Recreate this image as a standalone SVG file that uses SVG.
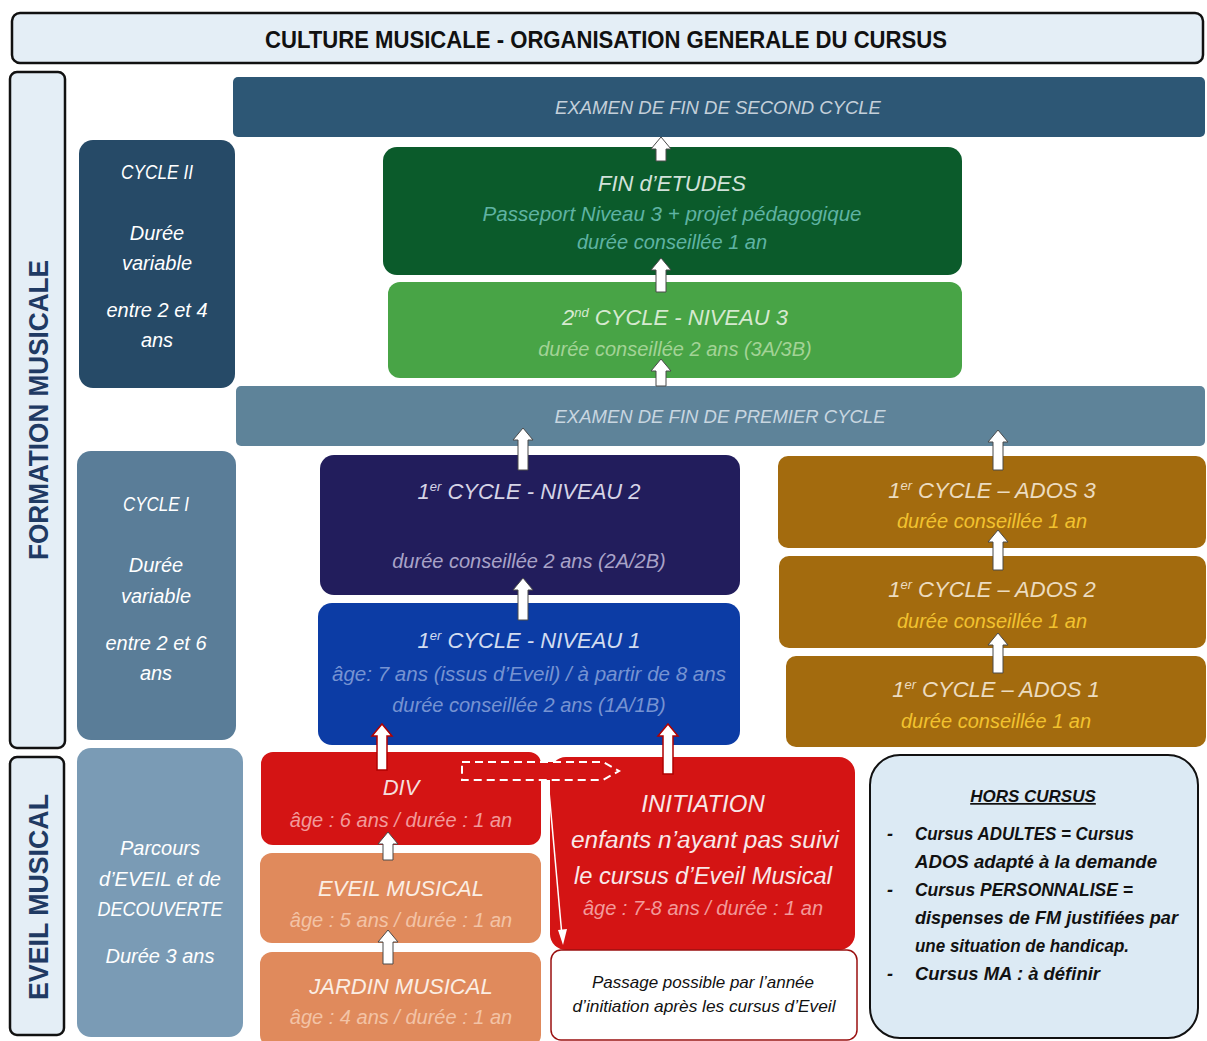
<svg xmlns="http://www.w3.org/2000/svg" width="1207" height="1041" viewBox="0 0 1207 1041">
<style>
text{font-family:"Liberation Sans",Arial,sans-serif;font-style:italic;text-anchor:middle}
.lbl{font-style:normal;font-weight:bold;fill:#1f3a63}
.side{fill:#ffffff;font-size:20px}
.h{font-size:22px}
.s{font-size:20px}
.arr{fill:#ffffff;stroke:#4a4a4a;stroke-width:1}
.arrR{fill:#ffffff;stroke:#b00000;stroke-width:1.5}
.hc{font-weight:bold;font-size:18px;fill:#111;text-anchor:start}
</style>
<rect width="1207" height="1041" fill="#ffffff"/>
<g id="title">
<rect x="12" y="13" width="1191" height="50" rx="8" fill="#e4eef6" stroke="#111" stroke-width="2.5"/>
<text x="606" y="48" style="font-style:normal;font-weight:bold;font-size:24px;fill:#111" textLength="682" lengthAdjust="spacingAndGlyphs">CULTURE MUSICALE - ORGANISATION GENERALE DU CURSUS</text>
</g>
<g id="formation-musicale">
<rect x="10" y="72" width="55" height="676" rx="7" fill="#e4eef6" stroke="#111" stroke-width="2.5"/>
<text class="lbl" transform="translate(48,410) rotate(-90)" font-size="27" textLength="300" lengthAdjust="spacingAndGlyphs">FORMATION  MUSICALE</text>
</g>
<g id="eveil-musical">
<rect x="10" y="757" width="54" height="278" rx="7" fill="#e4eef6" stroke="#111" stroke-width="2.5"/>
<text class="lbl" transform="translate(48,897) rotate(-90)" font-size="27" textLength="206" lengthAdjust="spacingAndGlyphs">EVEIL  MUSICAL</text>
</g>
<g id="cycle2">
<rect x="79" y="140" width="156" height="248" rx="14" fill="#264a67"/>
<text class="side" x="157" y="179" textLength="72" lengthAdjust="spacingAndGlyphs">CYCLE II</text>
<text class="side" x="157" y="240">Durée</text>
<text class="side" x="157" y="270">variable</text>
<text class="side" x="157" y="317">entre 2 et 4</text>
<text class="side" x="157" y="347">ans</text>
</g>
<g id="cycle1">
<rect x="77" y="451" width="159" height="289" rx="14" fill="#5a7d98"/>
<text class="side" x="156" y="511" textLength="66" lengthAdjust="spacingAndGlyphs">CYCLE I</text>
<text class="side" x="156" y="572">Durée</text>
<text class="side" x="156" y="603">variable</text>
<text class="side" x="156" y="650">entre 2 et 6</text>
<text class="side" x="156" y="680">ans</text>
</g>
<g id="parcours">
<rect x="77" y="748" width="166" height="289" rx="14" fill="#7a9bb5"/>
<text class="side" x="160" y="855">Parcours</text>
<text class="side" x="160" y="886">d’EVEIL et de</text>
<text class="side" x="160" y="916" textLength="125" lengthAdjust="spacingAndGlyphs">DECOUVERTE</text>
<text class="side" x="160" y="963">Durée 3 ans</text>
</g>
<g id="examen2">
<rect x="233" y="77" width="972" height="60" rx="5" fill="#2d5775"/>
<text x="718" y="114" font-size="18.5" fill="#c4d0da">EXAMEN DE FIN DE SECOND CYCLE</text>
</g>
<g id="fin-etudes">
<rect x="383" y="147" width="579" height="128" rx="14" fill="#0b5b2b"/>
<text x="672" y="191" class="h" fill="#d2e2da">FIN d’ETUDES</text>
<text x="672" y="221" class="s" fill="#5fb3a3" textLength="379" lengthAdjust="spacingAndGlyphs">Passeport Niveau 3 + projet pédagogique</text>
<text x="672" y="249" class="s" fill="#5fb3a3">durée conseillée 1 an</text>
</g>
<g id="cycle2-niveau3">
<rect x="388" y="282" width="574" height="96" rx="12" fill="#48a446"/>
<text x="675" y="325" class="h" fill="#d6e9d0">2<tspan font-size="13" dy="-8">nd</tspan><tspan dy="8"> CYCLE - NIVEAU 3</tspan></text>
<text x="675" y="356" class="s" fill="#a3d396">durée conseillée 2 ans (3A/3B)</text>
</g>
<g id="examen1">
<rect x="236" y="386" width="969" height="60" rx="5" fill="#5e8399"/>
<text x="720" y="423" font-size="18.5" fill="#c8d6e0">EXAMEN DE FIN DE PREMIER CYCLE</text>
</g>
<g id="niveau2">
<rect x="320" y="455" width="420" height="140" rx="14" fill="#221d5c"/>
<text x="529" y="499" class="h" fill="#d6d4e6">1<tspan font-size="13" dy="-8">er</tspan><tspan dy="8"> CYCLE - NIVEAU 2</tspan></text>
<text x="529" y="568" class="s" fill="#a9a3c8">durée conseillée 2 ans (2A/2B)</text>
</g>
<g id="niveau1">
<rect x="318" y="603" width="422" height="142" rx="14" fill="#0c3ca5"/>
<text x="529" y="648" class="h" fill="#d2dcf0">1<tspan font-size="13" dy="-8">er</tspan><tspan dy="8"> CYCLE - NIVEAU 1</tspan></text>
<text x="529" y="681" class="s" fill="#7693d2" textLength="394" lengthAdjust="spacingAndGlyphs">âge: 7 ans (issus d’Eveil) / à partir de 8 ans</text>
<text x="529" y="712" class="s" fill="#7693d2">durée conseillée 2 ans (1A/1B)</text>
</g>
<g id="ados3">
<rect x="778" y="456" width="428" height="92" rx="10" fill="#a36b0e"/>
<text x="992" y="498" class="h" fill="#ecdcc0">1<tspan font-size="13" dy="-8">er</tspan><tspan dy="8"> CYCLE – ADOS 3</tspan></text>
<text x="992" y="528" class="s" fill="#f2c22e">durée conseillée 1 an</text>
</g>
<g id="ados2">
<rect x="779" y="556" width="427" height="92" rx="10" fill="#a36b0e"/>
<text x="992" y="597" class="h" fill="#ecdcc0">1<tspan font-size="13" dy="-8">er</tspan><tspan dy="8"> CYCLE – ADOS 2</tspan></text>
<text x="992" y="628" class="s" fill="#f2c22e">durée conseillée 1 an</text>
</g>
<g id="ados1">
<rect x="786" y="656" width="420" height="91" rx="10" fill="#a36b0e"/>
<text x="996" y="697" class="h" fill="#ecdcc0">1<tspan font-size="13" dy="-8">er</tspan><tspan dy="8"> CYCLE – ADOS 1</tspan></text>
<text x="996" y="728" class="s" fill="#f2c22e">durée conseillée 1 an</text>
</g>
<g id="div">
<rect x="261" y="752" width="280" height="93" rx="12" fill="#d41414"/>
<text x="401" y="795" class="h" fill="#f4dede">DIV</text>
<text x="401" y="827" class="s" fill="#f29a9a">âge : 6 ans / durée : 1 an</text>
</g>
<g id="eveil">
<rect x="260" y="853" width="281" height="90" rx="12" fill="#e08a5c"/>
<text x="401" y="896" class="h" fill="#fbeee4">EVEIL MUSICAL</text>
<text x="401" y="927" class="s" fill="#f3c3a6">âge : 5 ans / durée : 1 an</text>
</g>
<g id="jardin">
<rect x="260" y="952" width="281" height="95" rx="12" fill="#e08a5c"/>
<text x="401" y="994" class="h" fill="#fbeee4">JARDIN MUSICAL</text>
<text x="401" y="1024" class="s" fill="#f3c3a6">âge : 4 ans / durée : 1 an</text>
</g>
<g id="initiation">
<rect x="550" y="757" width="305" height="193" rx="16" fill="#d41414"/>
<text x="703" y="812" font-size="24" fill="#f8e8e8">INITIATION</text>
<text x="705" y="848" font-size="23" fill="#f8e8e8" textLength="268" lengthAdjust="spacingAndGlyphs">enfants n’ayant pas suivi</text>
<text x="703" y="884" font-size="23" fill="#f8e8e8" textLength="258" lengthAdjust="spacingAndGlyphs">le cursus d’Eveil Musical</text>
<text x="703" y="915" class="s" fill="#f29a9a">âge : 7-8 ans / durée : 1 an</text>
</g>
<g id="passage">
<rect x="551" y="950" width="306" height="90" rx="10" fill="#ffffff" stroke="#9a1010" stroke-width="1.5"/>
<text x="703" y="988" font-size="17" fill="#111">Passage possible par l’année</text>
<text x="704" y="1012" font-size="17" fill="#111" textLength="263" lengthAdjust="spacingAndGlyphs">d’initiation après les cursus d’Eveil</text>
</g>
<g id="hors-cursus">
<rect x="870" y="755" width="328" height="283" rx="30" fill="#dceaf4" stroke="#111" stroke-width="2"/>
<text x="1033" y="802" style="font-weight:bold;font-size:17px;fill:#111;text-decoration:underline">HORS CURSUS</text>
<text class="hc" x="887" y="840">-</text>
<text class="hc" x="915" y="840" textLength="219" lengthAdjust="spacingAndGlyphs">Cursus ADULTES = Cursus</text>
<text class="hc" x="915" y="868" textLength="242" lengthAdjust="spacingAndGlyphs">ADOS adapté à la demande</text>
<text class="hc" x="887" y="896">-</text>
<text class="hc" x="915" y="896" textLength="218" lengthAdjust="spacingAndGlyphs">Cursus PERSONNALISE =</text>
<text class="hc" x="915" y="924" textLength="263" lengthAdjust="spacingAndGlyphs">dispenses de FM justifiées par</text>
<text class="hc" x="915" y="952" textLength="214" lengthAdjust="spacingAndGlyphs">une situation de handicap.</text>
<text class="hc" x="887" y="980">-</text>
<text class="hc" x="915" y="980" textLength="185" lengthAdjust="spacingAndGlyphs">Cursus MA : à définir</text>
</g>
<g id="connectors">
<path class="arr" d="M661,137 l10,12 h-5 v12 h-10 v-12 h-5 z"/>
<path class="arr" d="M661,258 l10,12 h-5 v22 h-10 v-22 h-5 z"/>
<path class="arr" d="M661,359 l10,12 h-5 v15 h-10 v-15 h-5 z"/>
<path class="arr" d="M523,428 l10,12 h-5 v30 h-10 v-30 h-5 z"/>
<path class="arr" d="M998,430 l10,12 h-5 v28 h-10 v-28 h-5 z"/>
<path class="arr" d="M523,578 l10,12 h-5 v30 h-10 v-30 h-5 z"/>
<path class="arr" d="M998,530 l10,12 h-5 v28 h-10 v-28 h-5 z"/>
<path class="arr" d="M998,633 l10,12 h-5 v28 h-10 v-28 h-5 z"/>
<path class="arrR" d="M382,724 l10,12 h-5 v34 h-10 v-34 h-5 z"/>
<path class="arrR" d="M668,724 l10,12 h-5 v38 h-10 v-38 h-5 z"/>
<path class="arr" d="M388,832 l10,12 h-5 v16 h-10 v-16 h-5 z"/>
<path class="arr" d="M388,930 l10,12 h-5 v22 h-10 v-22 h-5 z"/>
<path d="M462,762 H603 L619,771 L603,780 H462 Z" fill="#d41414" stroke="#ffffff" stroke-width="2" stroke-dasharray="8,5"/>
<path d="M548,780 L562,936" stroke="#ffffff" stroke-width="1.5" fill="none"/>
<path d="M558,930 L563,945 L567,929 Z" fill="#ffffff"/>
</g>
</svg>
